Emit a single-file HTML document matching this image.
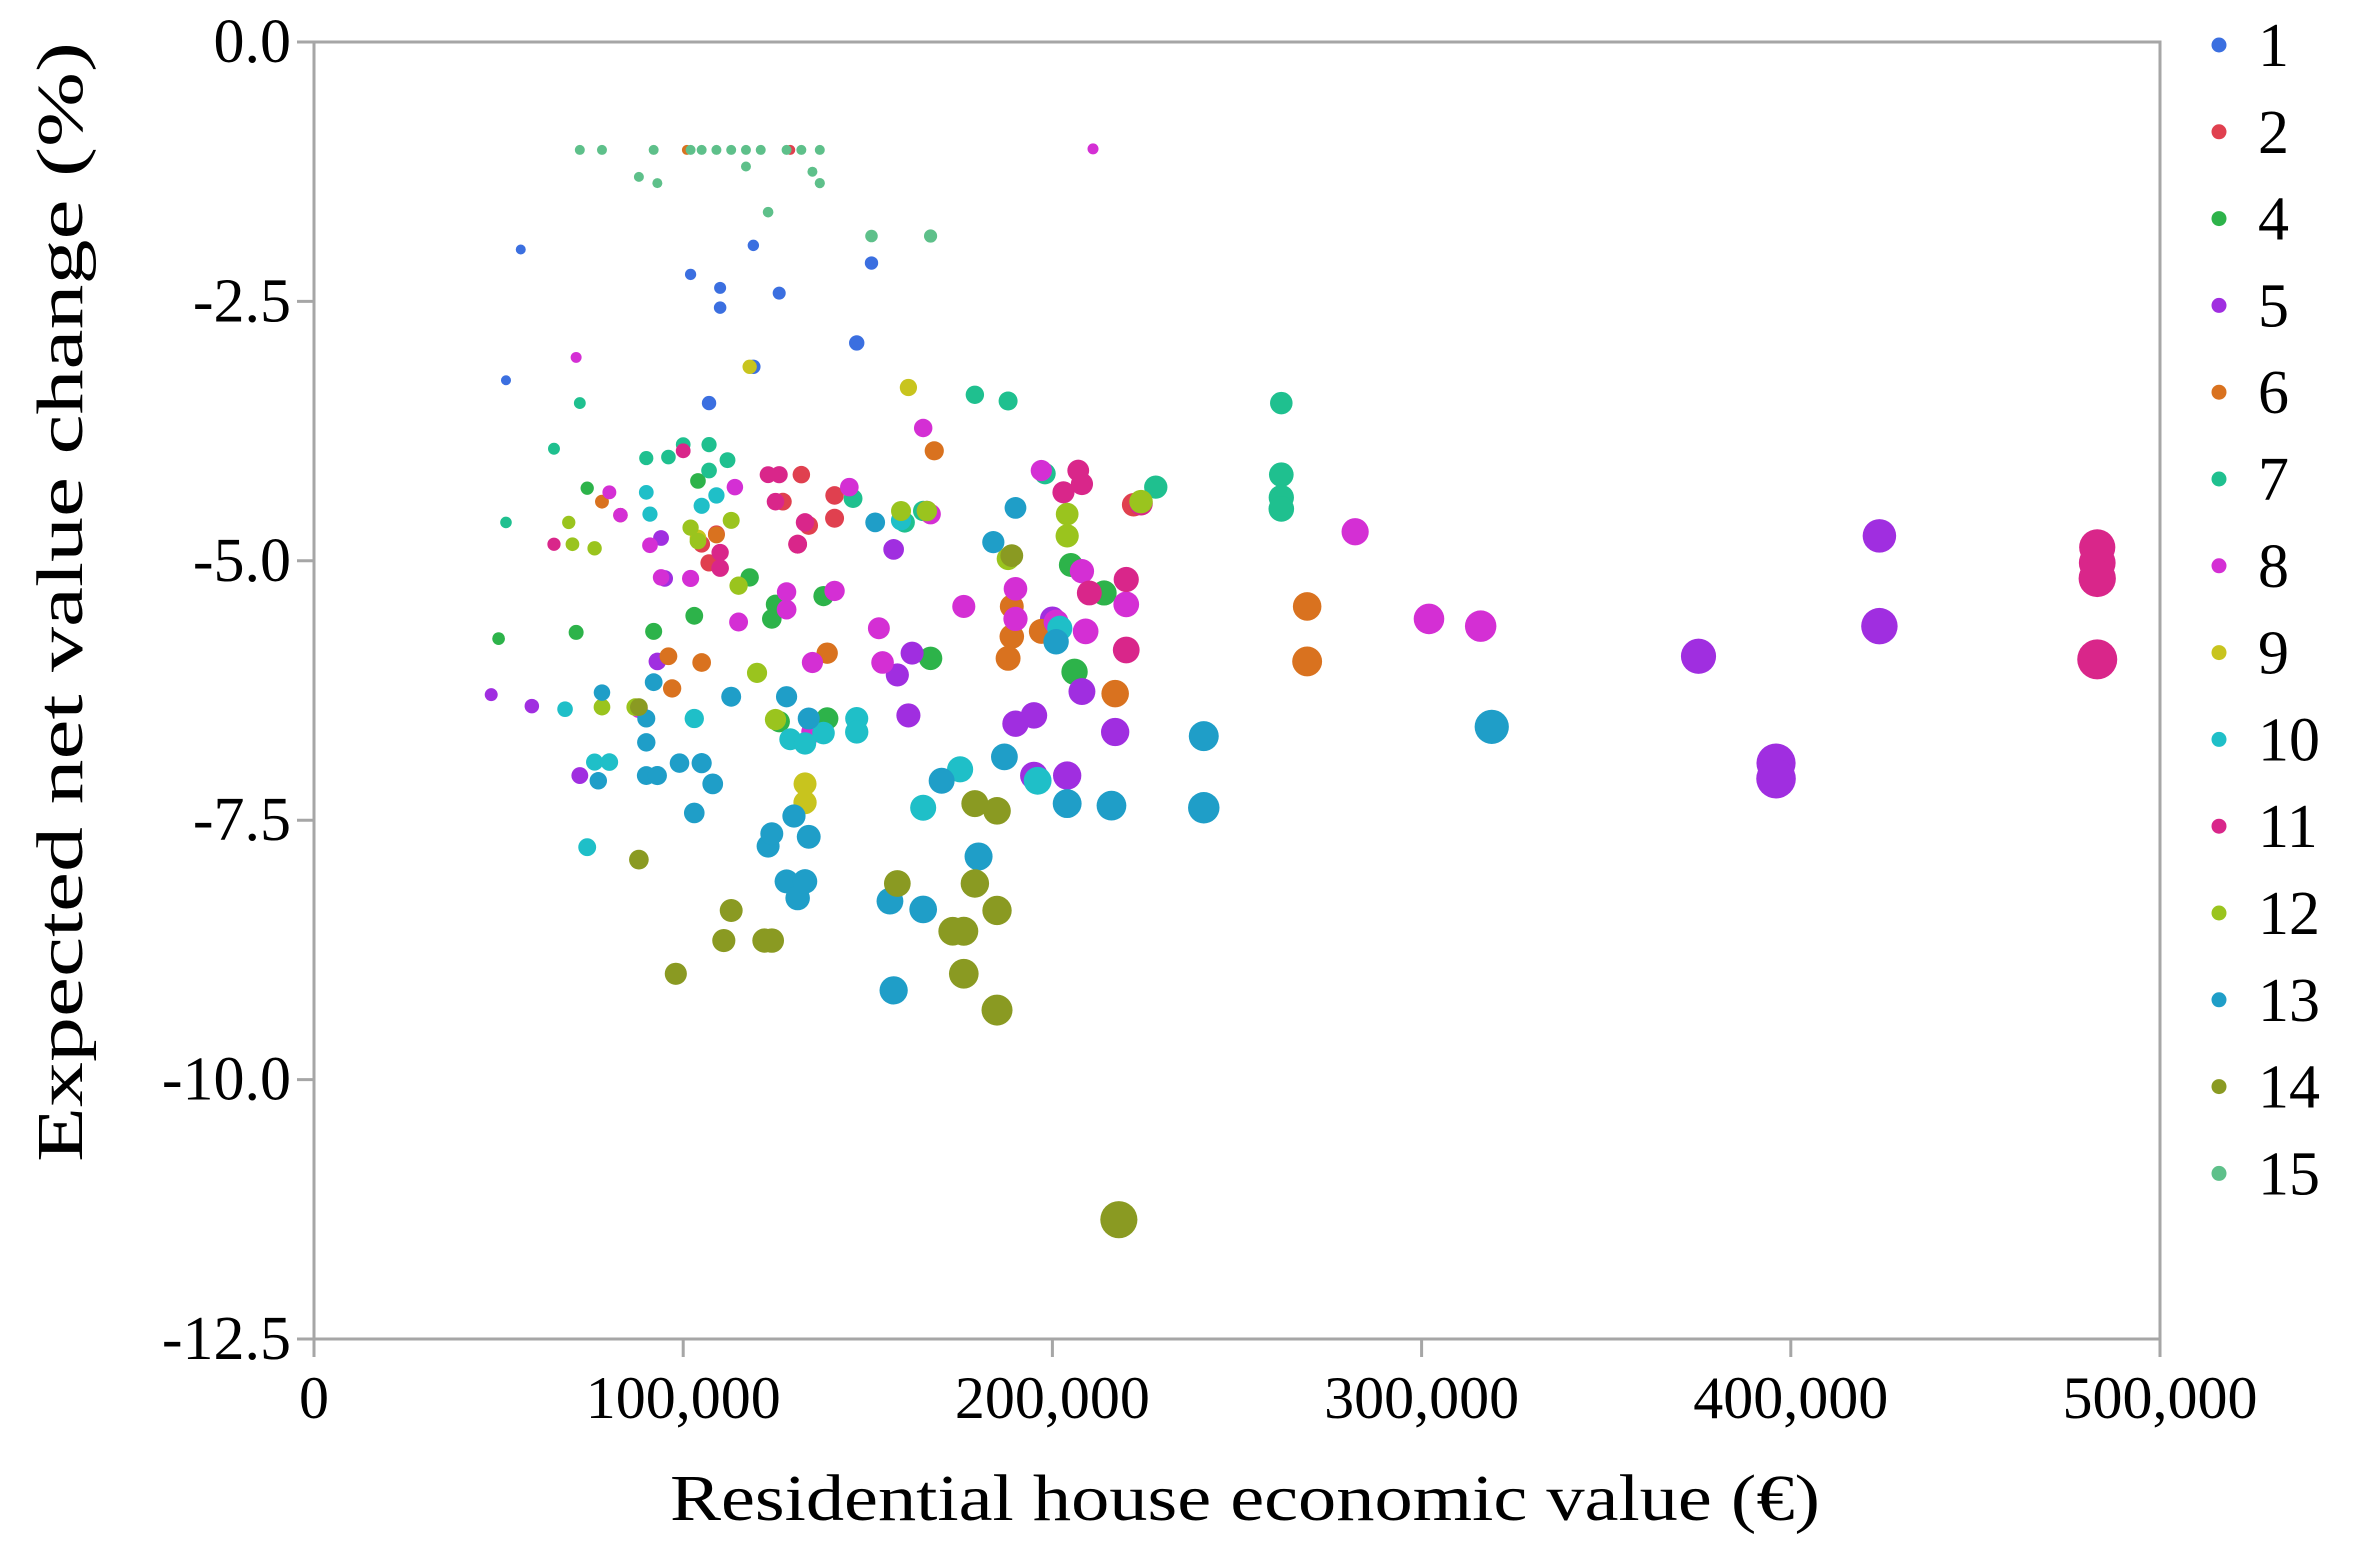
<!DOCTYPE html>
<html><head><meta charset="utf-8"><style>
html,body{margin:0;padding:0;background:#fff;}
svg{display:block;font-family:"Liberation Serif",serif;}
</style></head><body>
<svg id="chart" width="2354" height="1562" viewBox="0 0 2354 1562" xmlns="http://www.w3.org/2000/svg"></svg>
<script>
const xTicks=[0,100000,200000,300000,400000,500000];
const xTickLabels=["0","100,000","200,000","300,000","400,000","500,000"];
const yTicks=[0,-2.5,-5,-7.5,-10,-12.5];
const yTickLabels=["0.0","-2.5","-5.0","-7.5","-10.0","-12.5"];
const groups=["1","2","4","5","6","7","8","9","10","11","12","13","14","15"];
const groupColors=["#3b6fe0","#e0404f","#2db34a","#a02ee0","#d9721f","#1fc08f","#d42fd4","#c8c41e","#1fbfc8","#d9268a","#9ac41e","#1f9ec8","#8a9a22","#5ec08a"];
// values in thousands of euro, percent
const g1x=[56,102,119,110,110,126,151,147,119,107,52];
const g1y=[-2.0,-2.24,-1.96,-2.37,-2.56,-2.42,-2.13,-2.9,-3.13,-3.48,-3.26];
const g2x=[129,132,141,134,131,109,141,105,127,107,222,83];
const g2y=[-1.04,-4.17,-4.37,-4.66,-4.84,-4.74,-4.59,-4.84,-4.43,-5.02,-4.46,-4.56];
const g4x=[74,50,71,103,118,124,125,138,139,126,167,205,206,214,104,92];
const g4y=[-4.3,-5.75,-5.69,-5.53,-5.16,-5.56,-5.42,-5.34,-6.52,-6.55,-5.94,-5.04,-6.07,-5.31,-4.23,-5.68];
const g5x=[48,59,72,94,95,93,157,158,161,162,190,195,195,204,208,217,375,396,396,424,424,200];
const g5y=[-6.29,-6.4,-7.07,-4.78,-5.17,-5.97,-4.89,-6.1,-6.49,-5.89,-6.57,-6.49,-7.07,-7.07,-6.26,-6.65,-5.92,-6.95,-7.1,-4.76,-5.63,-5.56];
const g6x=[101,78,96,97,105,109,139,168,189,189,188,197,217,269,269];
const g6y=[-1.04,-4.43,-5.92,-6.23,-5.98,-4.75,-5.89,-3.94,-5.44,-5.73,-5.94,-5.68,-6.28,-5.44,-5.97];
const g7x=[65,72,52,100,107,112,107,179,188,198,228,262,262,262,262,146,160,165,90,96];
const g7y=[-3.92,-3.48,-4.63,-3.88,-3.88,-4.03,-4.13,-3.4,-3.46,-4.16,-4.29,-3.48,-4.17,-4.39,-4.5,-4.4,-4.63,-4.52,-4.01,-4.0];
const g8x=[211,71,80,83,91,94,102,114,115,128,128,135,135,141,145,153,154,165,167,176,190,190,201,197,208,282,302,316,166,209,220,88];
const g8y=[-1.03,-3.04,-4.34,-4.56,-4.85,-5.16,-5.17,-4.29,-5.59,-5.47,-5.3,-5.98,-6.65,-5.29,-4.29,-5.65,-5.98,-3.72,-4.55,-5.44,-5.27,-5.56,-5.59,-4.13,-5.1,-4.72,-5.56,-5.63,-4.52,-5.68,-5.42,-6.43];
const g9x=[118,133,133,161,104];
const g9y=[-3.13,-7.15,-7.33,-3.33,-4.78];
const g10x=[90,91,105,109,68,76,80,103,129,138,147,147,175,196,202,159,133,165,74];
const g10y=[-4.34,-4.55,-4.47,-4.37,-6.43,-6.94,-6.94,-6.52,-6.72,-6.66,-6.52,-6.65,-7.01,-7.12,-5.65,-4.61,-6.76,-7.38,-7.76];
const g11x=[65,100,110,110,123,126,131,133,125,207,208,203,210,220,220,224,483,483,483,483];
const g11y=[-4.84,-3.94,-5.07,-4.92,-4.17,-4.17,-4.84,-4.63,-4.43,-4.13,-4.26,-4.34,-5.31,-5.18,-5.86,-4.45,-4.87,-5.02,-5.17,-5.95];
const g12x=[69,70,76,78,87,102,104,113,115,120,125,159,166,188,204,204,224];
const g12y=[-4.63,-4.84,-4.88,-6.41,-6.41,-4.68,-4.81,-4.61,-5.24,-6.08,-6.53,-4.52,-4.52,-4.98,-4.55,-4.76,-4.43];
const g13x=[78,77,92,90,90,90,93,99,103,105,108,113,123,124,128,130,128,131,133,134,134,156,157,165,170,180,184,187,190,201,204,216,241,241,319,152];
const g13y=[-6.27,-7.12,-6.17,-6.52,-6.75,-7.07,-7.07,-6.95,-7.43,-6.95,-7.15,-6.31,-7.75,-7.63,-6.31,-7.46,-8.09,-8.25,-8.09,-7.66,-6.52,-8.28,-9.14,-8.36,-7.12,-7.85,-4.82,-6.89,-4.49,-5.78,-7.34,-7.36,-6.69,-7.38,-6.6,-4.63];
const g14x=[88,88,98,111,113,122,124,158,173,176,176,179,185,179,185,185,218,189];
const g14y=[-6.41,-7.88,-8.98,-8.66,-8.37,-8.66,-8.66,-8.11,-8.57,-8.57,-8.98,-7.34,-7.41,-8.11,-8.37,-9.33,-11.35,-4.95];
const g15x=[72,78,92,102,105,109,113,117,121,128,132,137,88,93,137,135,123,151,167,117];
const g15y=[-1.04,-1.04,-1.04,-1.04,-1.04,-1.04,-1.04,-1.04,-1.04,-1.04,-1.04,-1.04,-1.3,-1.36,-1.36,-1.25,-1.64,-1.87,-1.87,-1.2];
const seriesX=[g1x,g2x,g4x,g5x,g6x,g7x,g8x,g9x,g10x,g11x,g12x,g13x,g14x,g15x];
const seriesY=[g1y,g2y,g4y,g5y,g6y,g7y,g8y,g9y,g10y,g11y,g12y,g13y,g14y,g15y];

const NS="http://www.w3.org/2000/svg";
const svg=document.getElementById('chart');
const L=314,R=2160,T=42,B=1339;
const xMin=0,xMax=500000,yMin=-12.5,yMax=0;
function sx(v){return L+(v-xMin)/(xMax-xMin)*(R-L);}
function sy(v){return T+(yMax-v)/(yMax-yMin)*(B-T);}
function mk(tag,attrs,parent){const e=document.createElementNS(NS,tag);for(const k in attrs)e.setAttribute(k,attrs[k]);(parent||svg).appendChild(e);return e;}

const frame=mk('rect',{x:L,y:T,width:R-L,height:B-T,fill:'none',stroke:'#a6a6a6','stroke-width':3});



xTicks.forEach((v,i)=>{
  const t=mk('line',{x1:sx(v),x2:sx(v),y1:B,y2:B+18,stroke:'#a6a6a6','stroke-width':3});
  
  
  const lb=mk('text',{x:sx(v),y:1418,'font-size':60,'text-anchor':'middle',fill:'#000'});
  lb.textContent=xTickLabels[i];
  
  
});
yTicks.forEach((v,i)=>{
  const t=mk('line',{x1:L-17,x2:L,y1:sy(v),y2:sy(v),stroke:'#a6a6a6','stroke-width':3});
  
  
  const lb=mk('text',{x:291,y:sy(v)+20,'font-size':62,'text-anchor':'end',fill:'#000'});
  lb.textContent=yTickLabels[i];
  
  
});

const xt=mk('text',{x:1245,y:1520,'font-size':66,'text-anchor':'middle',textLength:1150,lengthAdjust:'spacingAndGlyphs'});
xt.textContent='Residential house economic value (€)';


const yt=mk('text',{x:0,y:0,'font-size':66,'text-anchor':'middle',textLength:1120,lengthAdjust:'spacingAndGlyphs',transform:'translate(82,602) rotate(-90)'});
yt.textContent='Expected net value change (%)';



const pts=mk('g',{});


seriesX.forEach((xs,gi)=>{
  const ys=seriesY[gi];
  xs.forEach((xv,j)=>{
    const v=xv*1000, y=ys[j];
    const r=Math.max(5,0.0118*Math.sqrt(v*Math.abs(y)));
    const c=mk('circle',{cx:sx(v),cy:sy(y),r:r,fill:groupColors[gi]},pts);
    
    
  });
});

groups.forEach((g,i)=>{
  const y=45+i*86.8;
  const d=mk('circle',{cx:2219,cy:y,r:7.5,fill:groupColors[i]});
  
  
  const t=mk('text',{x:2258,y:y+21,'font-size':62,fill:'#000'});
  t.textContent=g;
  
  
});
</script>
</body></html>
